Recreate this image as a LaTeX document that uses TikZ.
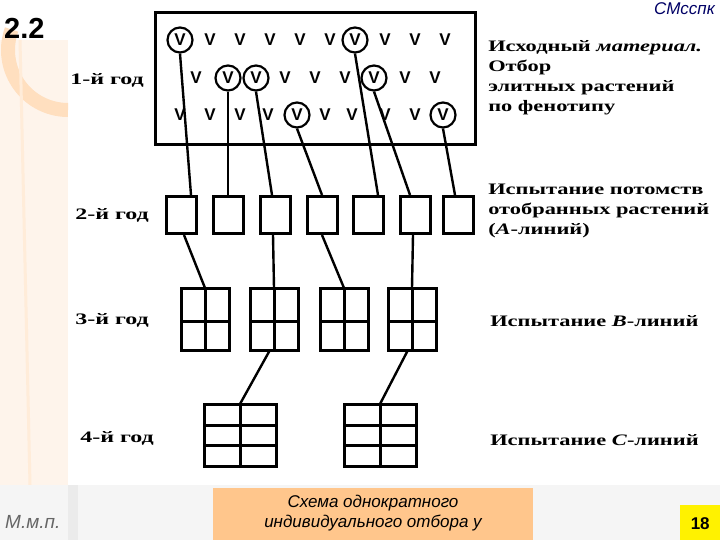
\documentclass[tikz,border=0pt]{standalone}
\usepackage{fontspec}
\setmainfont{Liberation Serif}
\newfontfamily\slidefont{Liberation Sans}
\begin{document}
\begin{tikzpicture}[x=1pt,y=-1pt,
  thk/.style={line width=3pt},
  ln/.style={line width=2.4pt},
  vv/.style={font=\bfseries\fontsize{17}{17}\selectfont\slidefont, inner sep=0pt},
  cv/.style={vv, draw, circle, line width=2.2pt, minimum size=25pt},
  sq/.style={draw, thk, minimum width=30pt, minimum height=37pt, inner sep=0pt},
  yr/.style={font=\bfseries\fontsize{16}{16}\selectfont, anchor=west, xscale=1.5, inner sep=0pt},
  rt/.style={font=\bfseries\fontsize{16}{20}\selectfont, anchor=west, align=left, xscale=1.4, inner sep=0pt}]
\useasboundingbox (0,0) rectangle (720,540);
\fill[white] (0,0) rectangle (720,540);
\fill[black!5!orange!8] (0,40) rectangle (68,485);
\draw[orange!25!white, line width=14pt] (68,110) arc (90:200:60);
\draw[orange!15!white, line width=3pt] (20,40) -- (30,485);
\fill[black!4] (0,485) rectangle (720,540);
\fill[black!8] (68,485) rectangle (78,540);
% slide decorations
\node[font=\bfseries\fontsize{29}{29}\selectfont\slidefont, anchor=west, inner sep=0pt] (num) at (4,28) {2.2};
\node[font=\itshape\fontsize{17}{17}\selectfont\slidefont, text=blue!40!black, anchor=east, inner sep=0pt] (cm) at (715,9) {СМсспк};
\node[fill=orange!45!white, minimum width=320pt, minimum height=52pt, anchor=north west, inner sep=0pt] (cap) at (213,488) {};
\node[font=\itshape\fontsize{17}{20}\selectfont\slidefont, align=center, anchor=north, inner sep=0pt] (capt) at (373,495) {Схема однократного\\индивидуального отбора у};
\node[font=\itshape\fontsize{19}{19}\selectfont\slidefont, text=black!60, anchor=west, inner sep=0pt] (mmp) at (5,522) {М.м.п.};
\node[fill=yellow, minimum width=40pt, minimum height=36pt, anchor=north west, inner sep=0pt, font=\bfseries\fontsize{17}{17}\selectfont\slidefont] (pg) at (680,505) {18};
% main box
\draw[thk] (155,13) rectangle (475,145);
% row 1
\foreach \x in {210,240,270,300,330,385,415,445} \node[vv] at (\x,40) {V};
\node[cv] (c1) at (180,40) {V};
\node[cv] (c5) at (355,40) {V};
% row 2
\foreach \x in {196,285,315,345,405,435} \node[vv] at (\x,78) {V};
\node[cv] (c2) at (228,78) {V};
\node[cv] (c3) at (256,78) {V};
\node[cv] (c6) at (374,78) {V};
% row 3
\foreach \x in {180,210,240,268,325,352,385,415} \node[vv] at (\x,115) {V};
\node[cv] (c4) at (297,115) {V};
\node[cv] (c7) at (443,115) {V};
% year 2 squares
\foreach \i/\x in {1/181,2/228,3/275,4/322,5/368,6/415,7/458}
  \node[sq] (s\i) at (\x,215) {};
% year 3 grids
\foreach \i/\x in {1/205,2/274,3/344,4/412}{
  \draw[thk] (\x-24,288) rectangle (\x+24,350);
  \draw[thk] (\x,288) -- (\x,350) (\x-24,321) -- (\x+24,321);
  \coordinate (gt\i) at (\x,288);
  \coordinate (gb\i) at (\x-4,350);
}
% year 4 grids
\foreach \i/\x in {1/240,2/380}{
  \draw[thk] (\x-36,404) rectangle (\x+36,466);
  \draw[thk] (\x,404) -- (\x,466) (\x-36,425) -- (\x+36,425) (\x-36,445) -- (\x+36,445);
  \coordinate (ht\i) at (\x,404);
}
% connectors
\draw[ln] (c1.south) -- ([xshift=10pt]s1.north);
\draw[ln] (c2.south) -- (s2.north);
\draw[ln] (c3.south) -- ([xshift=-3pt]s3.north);
\draw[ln] (c4.south) -- (s4.north);
\draw[ln] (c5.south) -- ([xshift=10pt]s5.north);
\draw[ln] (c6.south) -- ([xshift=-5pt]s6.north);
\draw[ln] (c7.south) -- ([xshift=-3pt]s7.north);
\draw[ln] ([xshift=3pt]s1.south) -- (gt1);
\draw[ln] ([xshift=-2pt]s3.south) -- (gt2);
\draw[ln] (s4.south) -- (gt3);
\draw[ln] ([xshift=-2pt]s6.south) -- (gt4);
\draw[ln] (gb2) -- (ht1);
\draw[ln] (gb4) -- (ht2);
% year labels
\node[yr] (y1) at (70,80) {1-й год};
\node[yr] (y2) at (75,215) {2-й год};
\node[yr] (y3) at (75,320) {3-й год};
\node[yr] (y4) at (80,438) {4-й год};
% right texts
\node[rt, anchor=north west] (t1) at (488,40) {Исходный \textit{материал.}\\Отбор\\элитных растений\\по фенотипу};
\node[rt, anchor=north west] (t2) at (488,184) {Испытание потомств\\отобранных растений\\(\textit{А}-линий)};
\node[rt] (t3) at (490,321) {Испытание \textit{В}-линий};
\node[rt] (t4) at (490,440) {Испытание \textit{С}-линий};
\end{tikzpicture}
\end{document}
